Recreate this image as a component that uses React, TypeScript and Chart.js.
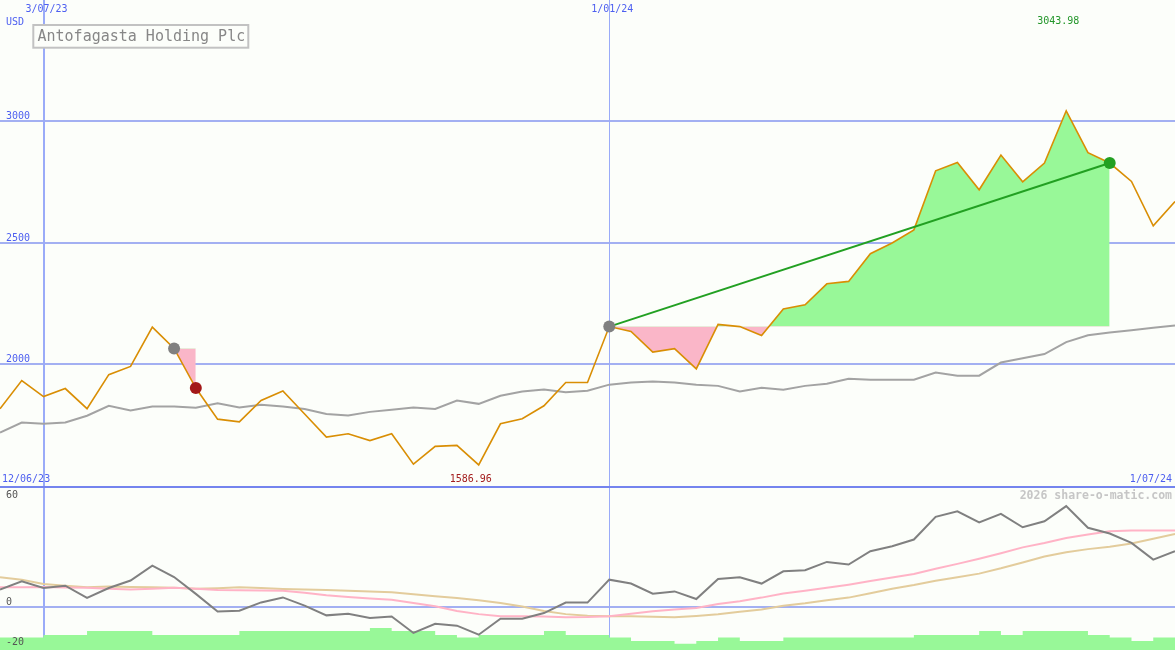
import React, { useEffect, useRef } from 'react';
import { Chart, registerables } from 'chart.js';

Chart.register(...registerables);

// ---------- data (weekly closes, 19/06/23 .. 1/07/24) ----------
const company = 'Antofagasta Holding Plc';
const currency = 'USD';
const rangeStartLabel = '12/06/23';
const rangeEndLabel = '1/07/24';
const watermark = '2026 share-o-matic.com';

const dateMarkers = [
  { i: 2, text: '3/07/23', width: 2 },
  { i: 28, text: '1/01/24', width: 1 },
];

const price = [
  1818, 1934, 1868, 1901, 1818, 1958, 1992, 2154, 2066, 1903,
  1775, 1764, 1852, 1891, 1796, 1701, 1715, 1687, 1715, 1590,
  1663, 1667, 1586.96, 1756, 1777, 1830, 1926, 1926, 2156, 2136,
  2051, 2065, 1982, 2165, 2156, 2119, 2228, 2246, 2332, 2342,
  2456, 2500, 2554, 2797, 2831, 2719, 2862, 2752, 2829, 3043.98,
  2872, 2829, 2753, 2571, 2671,
];

const priceMA = [
  1720, 1761, 1756, 1761, 1789, 1830, 1811, 1827, 1827, 1822,
  1840, 1823, 1834, 1827, 1817, 1796, 1790, 1805, 1814, 1823,
  1817, 1852, 1838, 1871, 1889, 1897, 1886, 1892, 1917, 1926,
  1930, 1926, 1917, 1912, 1889, 1904, 1896, 1912, 1921, 1941,
  1937, 1937, 1937, 1967, 1954, 1954, 2008, 2026, 2043, 2092,
  2120, 2132, 2141, 2151, 2160,
];

const momentum = [
  10.0, 14.7, 10.9, 12.2, 5.3, 10.9, 15.1, 23.5, 17.1, 7.6,
  -2.3, -1.9, 2.8, 5.6, 1.0, -4.5, -3.6, -6.0, -5.1, -14.4,
  -9.2, -10.3, -15.4, -6.4, -6.4, -3.2, 2.7, 2.7, 15.6, 13.4,
  7.7, 9.0, 4.7, 16.0, 16.9, 13.4, 20.3, 20.9, 25.6, 24.1,
  31.6, 34.4, 38.2, 51.0, 54.1, 47.9, 52.7, 45.1, 48.5, 57.0,
  44.8, 41.6, 36.3, 26.9, 31.6,
];

const momentumFast = [
  11.3, 11.4, 11.5, 11.2, 11.0, 10.5, 10.0, 10.5, 11.0, 10.5,
  9.8, 9.6, 9.5, 9.4, 8.3, 6.8, 5.9, 5.0, 4.3, 2.5,
  0.6, -2.0, -3.8, -5.0, -5.0, -5.2, -5.5, -5.4, -5.0, -3.6,
  -2.2, -1.2, -0.3, 1.9, 3.5, 5.5, 7.8, 9.3, 11.0, 12.8,
  14.8, 16.8, 18.8, 21.7, 24.5, 27.4, 30.5, 33.8, 36.3, 39.1,
  41.0, 42.8, 43.3, 43.3, 43.3,
];

const momentumSlow = [
  16.9, 15.6, 13.2, 12.2, 11.3, 11.8, 11.5, 11.3, 11.0, 10.5,
  10.8, 11.3, 10.9, 10.4, 10.1, 9.8, 9.4, 9.0, 8.5, 7.4,
  6.3, 5.3, 4.0, 2.5, 0.5, -2.0, -3.8, -4.7, -5.0, -5.0,
  -5.3, -5.6, -4.8, -3.9, -2.4, -1.2, 0.9, 2.3, 4.0, 5.5,
  8.0, 10.5, 12.6, 15.0, 17.0, 19.0, 22.0, 25.3, 28.6, 31.0,
  32.8, 34.2, 36.0, 38.6, 41.4,
];

// weekly volume (millions), one bar per week interval
const volume = [
  2.5, 2.5, 3.0, 3.0, 3.8, 3.8, 3.8, 3.0, 3.0, 3.0,
  3.0, 3.8, 3.8, 3.8, 3.8, 3.8, 3.8, 4.4, 3.8, 3.8,
  3.0, 2.5, 3.0, 3.0, 3.0, 3.8, 3.0, 3.0, 2.5, 1.8,
  1.8, 1.25, 1.8, 2.5, 1.8, 1.8, 2.5, 2.5, 2.5, 2.5,
  2.5, 2.5, 3.0, 3.0, 3.0, 3.8, 3.0, 3.8, 3.8, 3.8,
  3.0, 2.5, 1.8, 2.5,
];

const priceTicks = [3000, 2500, 2000];
const oscTicks = [60, 0, -20];
const oscGridLines = [0];

// signal segments: [startIndex, endIndex]
const lossSignal = [8, 9];
const gainSignal = [28, 51];

// ---------- styles ----------
const W = 1175;
const H = 650;
const BG = '#fcfefa';
const GRID = '#a3b0f2';
const VGRID = '#9aabf8';
const SEP = '#7484ee';
const BLUE_TEXT = '#4d5ff0';
const ORANGE = '#d98e04';
const GREEN_FILL = '#98f898';
const PINK_FILL = '#fab6c8';
const GREEN_LINE = '#22a022';
const MONO = '"DejaVu Sans Mono", "Liberation Mono", monospace';

const pts = (arr: number[], from = 0, to = arr.length - 1) => {
  const out: { x: number; y: number }[] = [];
  for (let i = from; i <= to; i++) out.push({ x: i, y: arr[i] });
  return out;
};

const decor = {
  id: 'decor',
  beforeDraw(chart: any) {
    const ctx = chart.ctx;
    ctx.save();
    ctx.fillStyle = BG;
    ctx.fillRect(0, 0, chart.width, chart.height);
    ctx.restore();
  },
  beforeDatasetsDraw(chart: any) {
    const ctx = chart.ctx;
    const xs = chart.scales.x;
    const yp = chart.scales.y;
    const yo = chart.scales.yOsc;
    ctx.save();
    ctx.strokeStyle = GRID;
    ctx.lineWidth = 2;
    for (const t of priceTicks) {
      const y = Math.round(yp.getPixelForValue(t));
      ctx.beginPath();
      ctx.moveTo(0, y);
      ctx.lineTo(W, y);
      ctx.stroke();
    }
    for (const t of oscGridLines) {
      const y = Math.round(yo.getPixelForValue(t));
      ctx.beginPath();
      ctx.moveTo(0, y);
      ctx.lineTo(W, y);
      ctx.stroke();
    }
    ctx.strokeStyle = VGRID;
    for (const m of dateMarkers) {
      ctx.lineWidth = m.width;
      const x = Math.round(xs.getPixelForValue(m.i)) + (m.width === 1 ? 0.5 : 0);
      ctx.beginPath();
      ctx.moveTo(x, 0);
      ctx.lineTo(x, H);
      ctx.stroke();
    }
    // panel separator at the bottom of the price panel
    ctx.strokeStyle = SEP;
    ctx.lineWidth = 2;
    const ys = Math.round(yp.getPixelForValue(1500)) + 1;
    ctx.beginPath();
    ctx.moveTo(0, ys);
    ctx.lineTo(W, ys);
    ctx.stroke();
    ctx.restore();
  },
  afterDatasetsDraw(chart: any) {
    const ctx = chart.ctx;
    const xs = chart.scales.x;
    const yp = chart.scales.y;
    const yo = chart.scales.yOsc;
    ctx.save();
    ctx.textBaseline = 'middle';
    ctx.font = `10px ${MONO}`;
    ctx.fillStyle = BLUE_TEXT;
    ctx.textAlign = 'center';
    for (const m of dateMarkers) {
      ctx.fillText(m.text, xs.getPixelForValue(m.i) + 3, 9);
    }
    ctx.textAlign = 'left';
    ctx.fillText(currency, 6, 22);
    for (const t of priceTicks) {
      ctx.fillText(String(t), 6, yp.getPixelForValue(t) - 5);
    }
    ctx.fillText(rangeStartLabel, 2, 479);
    ctx.textAlign = 'right';
    ctx.fillText(rangeEndLabel, 1172, 479);

    // extremes
    let iMin = 0;
    let iMax = 0;
    price.forEach((v, i) => {
      if (v < price[iMin]) iMin = i;
      if (v > price[iMax]) iMax = i;
    });
    ctx.textAlign = 'center';
    ctx.fillStyle = '#a31d1d';
    ctx.fillText(price[iMin].toFixed(2), xs.getPixelForValue(iMin) - 8, 479);
    ctx.fillStyle = '#23962a';
    ctx.fillText(price[iMax].toFixed(2), xs.getPixelForValue(iMax) - 8, 21);

    // oscillator labels
    ctx.textAlign = 'left';
    ctx.fillStyle = '#555555';
    for (const t of oscTicks) {
      const y = yo.getPixelForValue(t) - 5;
      ctx.fillText(String(t), 6, t < 0 ? y + 5 : y);
    }

    // watermark
    ctx.textAlign = 'right';
    ctx.fillStyle = '#c6c6c6';
    ctx.font = `bold 11.5px ${MONO}`;
    ctx.fillText(watermark, 1172, 496);

    // title box
    ctx.fillStyle = BG;
    ctx.fillRect(33, 25, 215, 23);
    ctx.strokeStyle = '#c2c2c2';
    ctx.lineWidth = 2;
    ctx.strokeRect(33.3, 25, 215, 22.7);
    ctx.fillStyle = '#878787';
    ctx.textAlign = 'left';
    ctx.textBaseline = 'alphabetic';
    ctx.font = `15px ${MONO}`;
    ctx.fillText(company, 37.5, 41.3);
    ctx.restore();
  },
};

export default function App() {
  const ref = useRef<HTMLCanvasElement | null>(null);

  useEffect(() => {
    if (!ref.current) return;
    const volPts = pts([...volume, volume[volume.length - 1]]);
    const chart = new Chart(ref.current, {
      type: 'line',
      data: {
        datasets: [
          // dots
          {
            data: [{ x: lossSignal[0], y: price[lossSignal[0]] }, { x: gainSignal[0], y: price[gainSignal[0]] }],
            showLine: false,
            pointRadius: 6,
            pointBackgroundColor: '#808080',
            pointBorderWidth: 0,
            order: 0,
          } as any,
          {
            data: [{ x: lossSignal[1], y: price[lossSignal[1]] }],
            showLine: false,
            pointRadius: 6,
            pointBackgroundColor: '#a31818',
            pointBorderWidth: 0,
            order: 0,
          },
          {
            data: [{ x: gainSignal[1], y: price[gainSignal[1]] }],
            showLine: false,
            pointRadius: 6,
            pointBackgroundColor: GREEN_LINE,
            pointBorderWidth: 0,
            order: 0,
          },
          // trend line
          {
            data: [{ x: gainSignal[0], y: price[gainSignal[0]] }, { x: gainSignal[1], y: price[gainSignal[1]] }],
            borderColor: GREEN_LINE,
            borderWidth: 2,
            pointRadius: 0,
            order: 1,
          },
          // price
          {
            data: pts(price),
            borderColor: ORANGE,
            borderWidth: 1.6,
            pointRadius: 0,
            order: 2,
          },
          // moving average
          {
            data: pts(priceMA),
            borderColor: '#a3a3a3',
            borderWidth: 2,
            pointRadius: 0,
            order: 3,
          },
          // signal fills
          {
            data: pts(price, lossSignal[0], lossSignal[1]),
            borderWidth: 0,
            borderColor: 'rgba(0,0,0,0)',
            pointRadius: 0,
            fill: { target: { value: price[lossSignal[0]] }, above: GREEN_FILL, below: PINK_FILL },
            order: 5,
          } as any,
          {
            data: pts(price, gainSignal[0], gainSignal[1]),
            borderWidth: 0,
            borderColor: 'rgba(0,0,0,0)',
            pointRadius: 0,
            fill: { target: { value: price[gainSignal[0]] }, above: GREEN_FILL, below: PINK_FILL },
            order: 5,
          } as any,
          // oscillator panel
          {
            data: pts(momentum),
            yAxisID: 'yOsc',
            borderColor: '#808080',
            borderWidth: 2,
            pointRadius: 0,
            order: 3,
          },
          {
            data: pts(momentumFast),
            yAxisID: 'yOsc',
            borderColor: '#ffb3c6',
            borderWidth: 2,
            pointRadius: 0,
            order: 4,
          },
          {
            data: pts(momentumSlow),
            yAxisID: 'yOsc',
            borderColor: '#e3cc9c',
            borderWidth: 2,
            pointRadius: 0,
            order: 4,
          },
          {
            data: volPts,
            yAxisID: 'yVol',
            stepped: true,
            borderWidth: 0,
            borderColor: 'rgba(0,0,0,0)',
            backgroundColor: GREEN_FILL,
            pointRadius: 0,
            fill: 'start',
            order: 6,
          } as any,
        ],
      },
      options: {
        animation: false,
        responsive: false,
        devicePixelRatio: 1,
        layout: { padding: 0, autoPadding: false },
        elements: { line: { tension: 0 } },
        plugins: {
          legend: { display: false },
          tooltip: { enabled: false },
        },
        scales: {
          x: { type: 'linear', display: false, min: 0, max: price.length - 1 },
          y: { display: false, min: 825, max: 3500 },
          yOsc: { display: false, min: -24, max: 342 },
          yVol: { display: false, min: 0, max: 130 },
        },
      },
      plugins: [decor],
    } as any);
    return () => chart.destroy();
  }, []);

  return (
    <div style={{ position: 'fixed', left: 0, top: 0, width: W, height: H }}>
      <canvas ref={ref} width={W} height={H} style={{ display: 'block', width: W, height: H }} />
    </div>
  );
}
